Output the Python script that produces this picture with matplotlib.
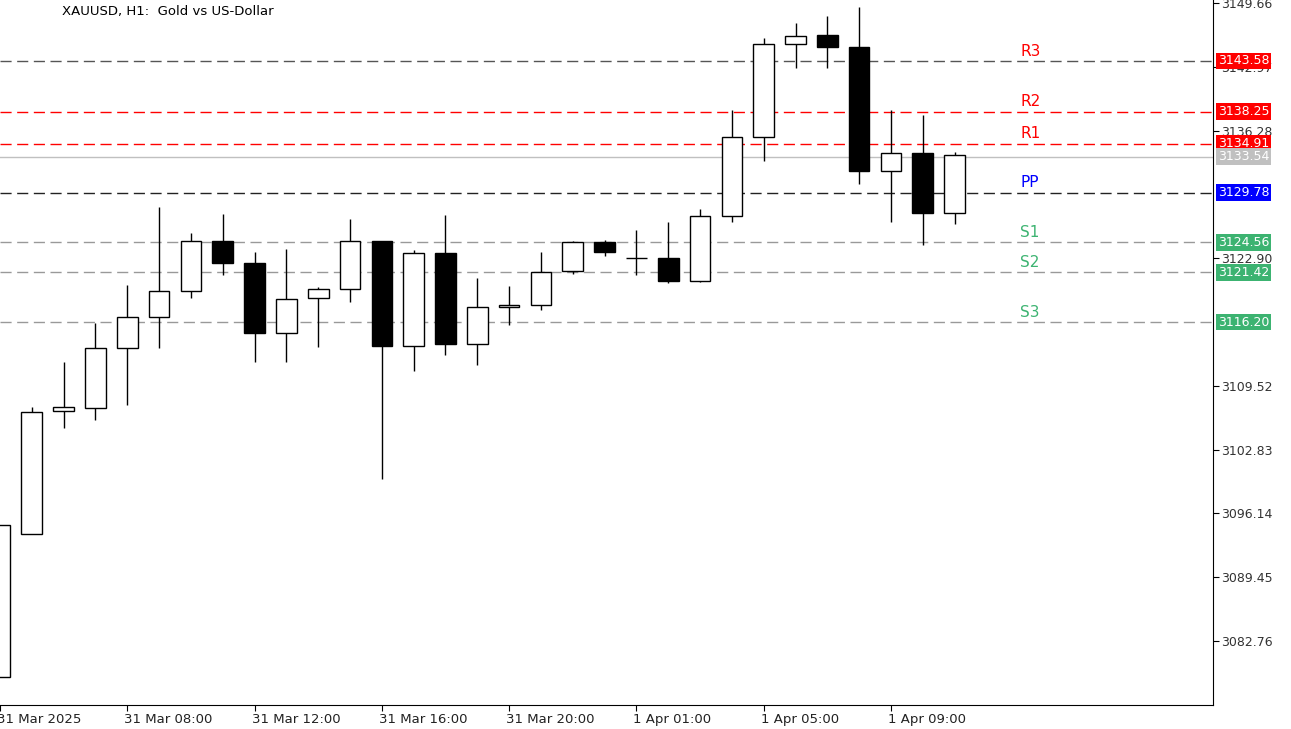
import matplotlib
matplotlib.use("Agg")
import matplotlib.pyplot as plt
from matplotlib.patches import Rectangle

opens  = [3078.98,3093.97,3106.87,3107.19,3113.48,3116.73,3119.46,3124.70,3122.39,3115.05,3118.72,3119.66,3124.70,3113.69,3123.44,3113.90,3117.78,3117.99,3121.55,3124.59,3122.92,3122.92,3120.50,3127.32,3135.60,3145.36,3146.30,3145.04,3132.04,3133.93,3127.63]
highs  = [3094.92,3107.29,3112.01,3116.10,3120.08,3128.26,3125.54,3127.53,3123.55,3123.86,3119.88,3127.01,3124.70,3123.75,3127.43,3120.82,3119.98,3123.55,3124.70,3124.80,3125.85,3126.69,3128.05,3138.44,3145.99,3147.56,3148.29,3149.24,3138.44,3137.91,3134.03]
lows   = [3078.98,3093.97,3105.09,3105.93,3107.50,3113.48,3118.72,3121.13,3112.01,3112.01,3113.58,3118.30,3099.74,3111.07,3112.74,3111.70,3115.89,3117.46,3121.24,3123.13,3121.13,3120.29,3120.40,3126.69,3133.09,3142.84,3142.84,3130.68,3126.69,3124.28,3126.48]
closes = [3094.92,3106.77,3107.29,3113.48,3116.73,3119.46,3124.70,3122.39,3115.05,3118.62,3119.66,3124.70,3113.69,3123.44,3113.90,3117.78,3117.99,3121.45,3124.59,3123.55,3122.92,3120.50,3127.32,3135.60,3145.36,3146.20,3145.04,3132.04,3133.93,3127.63,3133.72]
time_labels = ["31 Mar 2025","31 Mar 08:00","31 Mar 12:00","31 Mar 16:00","31 Mar 20:00","1 Apr 01:00","1 Apr 05:00","1 Apr 09:00"]
time_pos = [0,4,8,12,16,20,24,28]
yticks = [3149.66,3142.97,3136.28,3122.90,3109.52,3102.83,3096.14,3089.45,3082.76]
piv_names = ["R3","R2","R1","PP","S1","S2","S3"]
piv_vals = [3143.58,3138.25,3134.91,3129.78,3124.56,3121.42,3116.20]
current = 3133.54

W,H = 1291,729
fig = plt.figure(figsize=(W/100,H/100),dpi=100)
ax = fig.add_axes([0,24/H,1213/W,1-24/H])
ax.set_xlim(0.22,38.12)
ax.set_ylim(3076.05,3149.97)

line_col = {"R3":"#555555","R2":"red","R1":"red","PP":"#222222","S1":"#999999","S2":"#999999","S3":"#999999"}
txt_col = {"R3":"red","R2":"red","R1":"red","PP":"blue","S1":"#3cb371","S2":"#3cb371","S3":"#3cb371"}
for n,v in zip(piv_names,piv_vals):
    ax.axhline(v,color=line_col[n],ls=(0,(8,4)),lw=1,zorder=1)
    ax.text(32.07,v+0.25,n,color=txt_col[n],fontsize=11,va="bottom",ha="left")
ax.axhline(current,color="#c0c0c0",lw=1,zorder=1)

w=0.65
for i,(o,h,l,c) in enumerate(zip(opens,highs,lows,closes)):
    ax.vlines(i,l,h,color="black",lw=1,zorder=2)
    b=min(o,c); t=max(o,c)
    if abs(t-b)<0.05:
        ax.hlines(o,i-w/2,i+w/2,color="black",lw=1,zorder=3)
    else:
        ax.add_patch(Rectangle((i-w/2,b),w,t-b,facecolor="black" if c<o else "white",edgecolor="black",lw=1,zorder=3))

ax.yaxis.tick_right()
ax.set_yticks(yticks)
ax.set_yticklabels([f"{v:.2f}" for v in yticks],fontsize=9,color="#333333")
ax.set_xticks(time_pos)
ax.set_xticklabels(time_labels,fontsize=9.5,color="#222222")
ax.tick_params(axis="x",length=4,pad=2)
ax.tick_params(axis="y",length=4,pad=2)
import matplotlib.transforms as mt
for lab in ax.get_xticklabels():
    lab.set_ha("left")
    lab.set_transform(lab.get_transform()+mt.ScaledTranslation(-0.03,0,fig.dpi_scale_trans))
for s in ["top","left"]:
    ax.spines[s].set_visible(False)

def ylab(v,fc,tc="white"):
    ax.text(1.004,v,f"{v:.2f}",transform=ax.get_yaxis_transform(),fontsize=9,color=tc,va="center",ha="left",
            bbox=dict(boxstyle="square,pad=0.15",fc=fc,ec="none"),zorder=5)
for n,v in zip(piv_names,piv_vals):
    ylab(v,txt_col[n])
ylab(current,"#c0c0c0")

fig.text(62/W,1-12/H,"XAUUSD, H1:  Gold vs US-Dollar",fontsize=9.5,va="center",ha="left")
fig.savefig("out.png",dpi=100)
